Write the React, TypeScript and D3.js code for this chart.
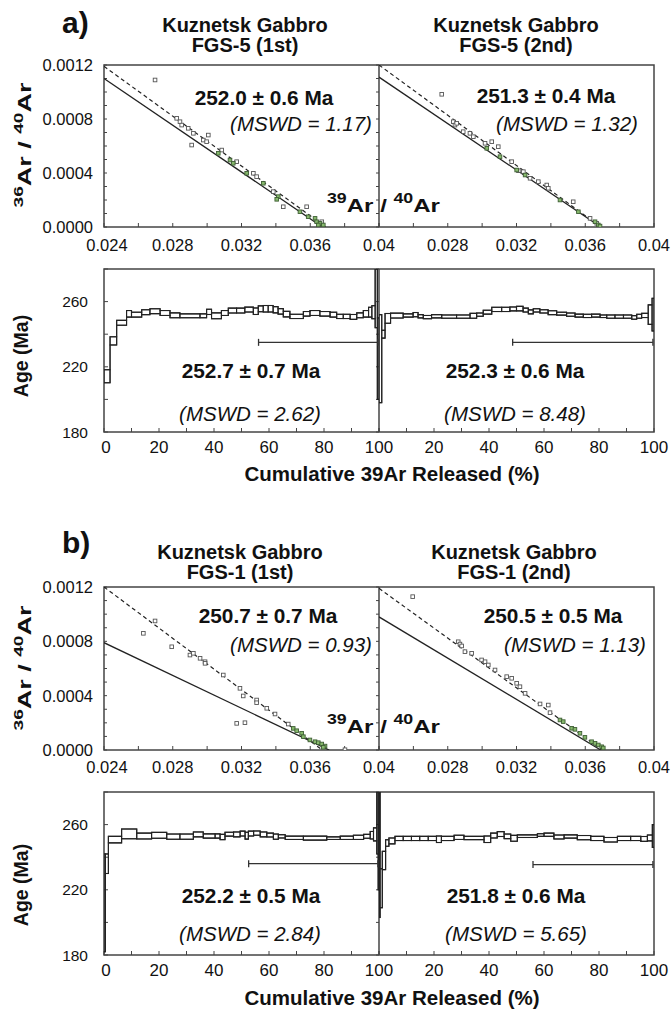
import { useEffect, useRef } from 'react';
import * as d3 from 'd3';

type Pt = [number, number];
type Step = [number, number, number, number]; // from %, to %, age, error

const FONT = "'Liberation Sans', Arial, Helvetica, sans-serif";

// axis ticks
const isoXTicks = [0.024, 0.028, 0.032, 0.036, 0.04];
const isoXTickLabels = ['0.024', '0.028', '0.032', '0.036', '0.04'];
const isoYTicks = [0, 0.0004, 0.0008, 0.0012];
const isoYTickLabels = ['0.0000', '0.0004', '0.0008', '0.0012'];
const ageXTicks = [0, 20, 40, 60, 80, 100];
const ageYTicks = [180, 220, 260];

// texts
const sectionLetters = ['a)', 'b)'];
const sampleNames = ['FGS-5 (1st)', 'FGS-5 (2nd)', 'FGS-1 (1st)', 'FGS-1 (2nd)'];
const isoAges = ['252.0 ± 0.6 Ma', '251.3 ± 0.4 Ma', '250.7 ± 0.7 Ma', '250.5 ± 0.5 Ma'];
const isoMswd = ['(MSWD = 1.17)', '(MSWD = 1.32)', '(MSWD = 0.93)', '(MSWD = 1.13)'];
const plateauAges = ['252.7 ± 0.7 Ma', '252.3 ± 0.6 Ma', '252.2 ± 0.5 Ma', '251.8 ± 0.6 Ma'];
const plateauMswd = ['(MSWD = 2.62)', '(MSWD = 8.48)', '(MSWD = 2.84)', '(MSWD = 5.65)'];

// isochron points (39Ar/40Ar, 36Ar/40Ar)
const fgs5aOpen: Pt[] = [
  [0.02697, 0.001089], [0.02823, 0.000805], [0.02842, 0.00078], [0.02852, 0.000755], [0.0289, 0.000731],
  [0.0292, 0.000694], [0.0291, 0.000607], [0.02978, 0.000644], [0.03007, 0.000681], [0.02997, 0.000632],
  [0.03085, 0.00057], [0.03172, 0.000484], [0.03269, 0.000398], [0.03288, 0.000373], [0.03385, 0.000262],
  [0.03443, 0.00015], [0.03579, 0.00015], [0.03667, 0.000039],
];
const fgs5aGreen: Pt[] = [
  [0.03065, 0.000546], [0.03133, 0.000496], [0.03152, 0.000472], [0.0323, 0.000398], [0.03327, 0.000324],
  [0.03414, 0.000225], [0.03405, 0.000205], [0.0354, 0.000113], [0.03588, 0.000076], [0.03628, 0.000064],
  [0.03637, 0.000039], [0.03657, 0.000027], [0.03647, 0.000015], [0.03676, 0.000015],
];
const fgs5bOpen: Pt[] = [
  [0.02765, 0.000983], [0.02832, 0.00078], [0.02842, 0.000755], [0.02852, 0.000768], [0.0289, 0.000706],
  [0.02929, 0.000694], [0.02949, 0.000669], [0.03017, 0.00062], [0.03056, 0.000632], [0.03094, 0.000595],
  [0.03172, 0.000484], [0.03211, 0.000417], [0.0324, 0.00041], [0.03279, 0.000361], [0.03327, 0.000336],
  [0.03376, 0.000311], [0.03385, 0.000287], [0.0353, 0.000187], [0.03628, 0.000064], [0.03667, 0.000027],
];
const fgs5bGreen: Pt[] = [
  [0.03027, 0.000583], [0.03104, 0.000521], [0.03201, 0.000422], [0.0325, 0.000385], [0.03453, 0.0002],
  [0.0356, 0.000113], [0.03657, 0.000039], [0.03676, 0.000015], [0.03686, 0.000007],
];
const fgs1aOpen: Pt[] = [
  [0.02629, 0.000859], [0.02697, 0.00095], [0.02794, 0.00076], [0.029, 0.000699], [0.0292, 0.000712],
  [0.02959, 0.000675], [0.02988, 0.00065], [0.02988, 0.000638], [0.03094, 0.000552], [0.03191, 0.000454],
  [0.0321, 0.000398], [0.03172, 0.000196], [0.0322, 0.000201], [0.03288, 0.000368], [0.03288, 0.000348],
  [0.03347, 0.000307], [0.03395, 0.000265], [0.03472, 0.000191], [0.03802, 0.000002],
];
const fgs1aGreen: Pt[] = [
  [0.03501, 0.000159], [0.03521, 0.000142], [0.0355, 0.000123], [0.0356, 0.000098], [0.03598, 0.000074],
  [0.03628, 0.000061], [0.03647, 0.000054], [0.03667, 0.000044], [0.03686, 0.000029], [0.03676, 0.00002],
];
const fgs1bOpen: Pt[] = [
  [0.02596, 0.001129], [0.02861, 0.000797], [0.02871, 0.00078], [0.02881, 0.000766], [0.029, 0.000724],
  [0.02939, 0.000712], [0.02997, 0.000663], [0.03017, 0.00065], [0.03036, 0.000626], [0.03075, 0.000589],
  [0.03143, 0.00054], [0.03172, 0.000528], [0.03201, 0.000491], [0.0322, 0.000466], [0.0325, 0.000417],
  [0.03337, 0.000339], [0.03385, 0.000331], [0.03395, 0.000275],
];
const fgs1bGreen: Pt[] = [
  [0.03453, 0.000221], [0.03472, 0.000209], [0.03521, 0.00016], [0.0354, 0.000152], [0.03569, 0.000123],
  [0.03598, 0.000093], [0.03637, 0.000061], [0.03657, 0.000049], [0.03676, 0.000037], [0.03696, 0.000024],
  [0.03705, 0.000015],
];

// regression lines (start at 0.024, end at x-intercept)
const fgs5aSolid: Pt[] = [[0.024, 0.0011], [0.0367, 0]];
const fgs5aDashed: Pt[] = [[0.024, 0.00119], [0.0369, 0]];
const fgs5bSolid: Pt[] = [[0.024, 0.00111], [0.0369, 0]];
const fgs5bDashed: Pt[] = [[0.024, 0.0012], [0.0369, 0]];
const fgs1aSolid: Pt[] = [[0.024, 0.00079], [0.0371, 0]];
const fgs1aDashed: Pt[] = [[0.024, 0.0012], [0.0367, 0]];
const fgs1bSolid: Pt[] = [[0.024, 0.00098], [0.0369, 0]];
const fgs1bDashed: Pt[] = [[0.024, 0.00119], [0.037, 0]];

// age spectra steps
const fgs5aSteps: Step[] = [
  [0, 2.2, 214.2, 4], [2.2, 4.6, 235.9, 2.5], [4.6, 8.2, 247, 1.5], [8.2, 10, 252.5, 2],
  [10, 13.7, 252, 1.5], [13.7, 16.7, 253.5, 1.5], [16.7, 20.4, 254.1, 1.5], [20.4, 24, 253, 1.5],
  [24, 27.6, 251.6, 1.5], [27.6, 34.9, 251.3, 1.2], [34.9, 37.3, 251.3, 1.2], [37.3, 39.1, 253.7, 1.6],
  [39.1, 42.7, 251.3, 1.8], [42.7, 45.2, 253, 1.5], [45.2, 48.2, 254.5, 1.5], [48.2, 51.2, 254.5, 1.5],
  [51.2, 54.3, 255.1, 1.5], [54.3, 56.1, 254.1, 2], [56.1, 57.9, 255.6, 1.8], [57.9, 59.7, 255.6, 2],
  [59.7, 61.5, 255.6, 2], [61.5, 63.3, 255, 1.9], [63.3, 65.2, 254, 1.7], [65.2, 67.6, 252.3, 1.7],
  [67.6, 72.5, 250.9, 1.3], [72.5, 74.9, 252.5, 1.4], [74.9, 78.5, 253, 1.5], [78.5, 82.2, 252.5, 1.4],
  [82.2, 84.6, 252, 1.5], [84.6, 87, 250.9, 1.3], [87, 89.5, 250.9, 1.3], [89.5, 91.9, 250.6, 1.5],
  [91.9, 94.3, 251.6, 1.5], [94.3, 96.2, 252.5, 2], [96.2, 97.4, 253.5, 3], [97.4, 98.6, 253.5, 4],
  [98.6, 99.4, 262, 18], [99.4, 100, 225, 25],
];
const fgs5bSteps: Step[] = [
  [0, 1, 225, 27], [1, 2.2, 240, 2.4], [2.2, 4.2, 249.7, 3], [4.2, 8.8, 251.4, 1.5],
  [8.8, 12.4, 251.5, 1], [12.4, 14.2, 252, 1.3], [14.2, 16.1, 251, 1], [16.1, 19.1, 250.5, 1],
  [19.1, 22.8, 251, 1], [22.8, 28.2, 250.8, 1], [28.2, 33.1, 250.8, 1], [33.1, 35.5, 251.3, 1.5],
  [35.5, 37.9, 252, 1], [37.9, 41, 253.5, 1.2], [41, 44.6, 255.2, 1.3], [44.6, 47.6, 255.2, 1.3],
  [47.6, 50, 255.5, 1.2], [50, 52.4, 255.7, 1.4], [52.4, 54.3, 254.8, 1.2], [54.3, 56.1, 253.7, 1.2],
  [56.1, 58.5, 254.6, 1], [58.5, 61.5, 254, 1], [61.5, 64.6, 253.2, 1.2], [64.6, 68.2, 252.6, 0.9],
  [68.2, 71.3, 252, 1], [71.3, 74.3, 251.4, 0.9], [74.3, 77.3, 251.2, 1], [77.3, 80.4, 251.4, 0.9],
  [80.4, 82.8, 251, 0.8], [82.8, 85.8, 250.8, 1], [85.8, 88.9, 250.8, 1], [88.9, 91.9, 250.8, 1],
  [91.9, 93.7, 250.3, 1.1], [93.7, 95.5, 251, 1.2], [95.5, 97.9, 251.5, 1.3], [97.9, 99.3, 252, 6],
  [99.3, 100, 252, 10],
];
const fgs1aSteps: Step[] = [
  [0, 0.5, 212, 30], [0.5, 1.6, 236, 6], [1.6, 6.4, 250.8, 2], [6.4, 11.9, 254.3, 3],
  [11.9, 17.3, 253, 1.8], [17.3, 22.8, 253.4, 1.8], [22.8, 27.6, 252.6, 1.6], [27.6, 32.5, 252.6, 1.6],
  [32.5, 36.1, 254, 1.5], [36.1, 40.4, 253, 1.3], [40.4, 42.2, 253, 1.3], [42.2, 44, 252.4, 1.6],
  [44, 47.1, 254.1, 1.2], [47.1, 49.5, 254, 1.5], [49.5, 51.3, 254.5, 1.5], [51.3, 52.5, 253.2, 2.1],
  [52.5, 54.4, 254.5, 1.5], [54.4, 56.8, 254.8, 1.3], [56.8, 59.2, 254, 1.5], [59.2, 61.6, 253.6, 1.2],
  [61.6, 63.4, 252.6, 1.6], [63.4, 65.9, 252.8, 1], [65.9, 72.5, 251.9, 1], [72.5, 81, 251.7, 1.2],
  [81, 85.9, 251.7, 0.8], [85.9, 90.7, 251.9, 1], [90.7, 94.4, 252.2, 1.3], [94.4, 96.8, 252.8, 1.2],
  [96.8, 98, 253.5, 2.3], [98, 99.2, 254, 4], [99.2, 99.7, 262, 20], [99.7, 100, 240, 20],
];
const fgs1bSteps: Step[] = [
  [0, 0.4, 242, 39], [0.4, 1.2, 221, 12], [1.2, 2.4, 238, 5.6], [2.4, 3.6, 248.7, 2],
  [3.6, 5.8, 250, 1.8], [5.8, 8.8, 251.5, 1.3], [8.8, 11.8, 251.5, 1.3], [11.8, 14.8, 251.5, 1.3],
  [14.8, 17.9, 251.5, 1.3], [17.9, 20.9, 251.5, 1.3], [20.9, 22.7, 251, 2], [22.7, 27.3, 251.5, 1.3],
  [27.3, 30.9, 252.2, 1.3], [30.9, 38.2, 251.8, 1], [38.2, 40.6, 251, 2], [40.6, 43, 253.3, 1.5],
  [43, 45.5, 254.2, 1.5], [45.5, 47.9, 252.8, 1.4], [47.9, 50.3, 251.6, 1.8], [50.3, 57.6, 252.9, 0.8],
  [57.6, 60, 253.6, 0.8], [60, 63.6, 253.8, 1], [63.6, 67.3, 252.4, 1.2], [67.3, 72.1, 252.7, 1],
  [72.1, 77, 252, 1.3], [77, 81.8, 251.5, 1.3], [81.8, 86.7, 250.7, 1.4], [86.7, 91.5, 251.5, 1.3],
  [91.5, 95.2, 251.5, 1.3], [95.2, 97.6, 251.2, 1.5], [97.6, 99.4, 251.8, 1.8], [99.4, 100, 253, 7],
];

// plateau bars: from %, to %, drawn at age
const fgs5aPlateau = [56.2, 99.6, 235];
const fgs5bPlateau = [48.6, 99.6, 235];
const fgs1aPlateau = [52.6, 99.6, 236];
const fgs1bPlateau = [56, 99.6, 235.5];

const samples = [
  { open: fgs5aOpen, green: fgs5aGreen, solid: fgs5aSolid, dashed: fgs5aDashed, steps: fgs5aSteps, plateau: fgs5aPlateau },
  { open: fgs5bOpen, green: fgs5bGreen, solid: fgs5bSolid, dashed: fgs5bDashed, steps: fgs5bSteps, plateau: fgs5bPlateau },
  { open: fgs1aOpen, green: fgs1aGreen, solid: fgs1aSolid, dashed: fgs1aDashed, steps: fgs1aSteps, plateau: fgs1aPlateau },
  { open: fgs1bOpen, green: fgs1bGreen, solid: fgs1bSolid, dashed: fgs1bDashed, steps: fgs1bSteps, plateau: fgs1bPlateau },
];

// layout
const COLS: [number, number][] = [[104, 379], [379, 654]];
const SECTIONS = [
  { iso: [227, 65], age: [432, 269], title: [32, 52], letter: 33, isoTick: 251, ageTick: 453, cum: 481,
    isoLabel: 145, ageLabel: 356, inner: 212, isoText: [105, 131], specText: [378, 421] },
  { iso: [750, 587], age: [955, 792], title: [559, 579], letter: 553, isoTick: 773, ageTick: 976, cum: 1005,
    isoLabel: 668, ageLabel: 885, inner: 733, isoText: [623, 652], specText: [903, 941] },
];
const TITLE_X = [245, 516, 240, 514];
const ISO_AGE_X = [264, 546, 268, 553];
const ISO_MSWD_X = [301, 567, 301, 575];
const SPEC_AGE_X = [251, 515, 251, 516];
const SPEC_MSWD_X = [250, 515, 250, 516];

const INK = '#222';
const FRAME = '#444';

function App() {
  const svgRef = useRef<SVGSVGElement>(null);

  useEffect(() => {
    const svg = d3.select(svgRef.current);
    svg.selectAll('*').remove();
    const defs = svg.append('defs');

    svg.append('rect').attr('width', 671).attr('height', 1015).attr('fill', '#fff');

    const txt = (g: any, x: number, y: number, s: string, size: number, opts: any = {}) =>
      g.append('text')
        .attr('x', x).attr('y', y)
        .attr('font-family', FONT)
        .attr('font-size', size)
        .attr('font-weight', opts.bold ? 'bold' : 'normal')
        .attr('font-style', opts.italic ? 'italic' : 'normal')
        .attr('text-anchor', opts.anchor || 'middle')
        .attr('fill', opts.fill || '#111')
        .text(s);

    // label with superscript isotopes
    const isoLabel = (g: any, a: string, b: string, supSize: number, mainSize: number, shift: number, length: number) => {
      const t = g.append('text')
        .attr('font-family', FONT).attr('font-weight', 'bold').attr('fill', '#111')
        .attr('textLength', length).attr('lengthAdjust', 'spacingAndGlyphs');
      t.append('tspan').attr('font-size', supSize).attr('dy', -shift).text(a);
      t.append('tspan').attr('font-size', mainSize).attr('dy', shift).text('Ar / ');
      t.append('tspan').attr('font-size', supSize).attr('dy', -shift).text(b);
      t.append('tspan').attr('font-size', mainSize).attr('dy', shift).text('Ar');
      return t;
    };

    SECTIONS.forEach((sec, si) => {
      const g = svg.append('g');

      // section letter
      txt(g, 62, sec.letter, sectionLetters[si], 30, { bold: true, anchor: 'start' });

      // axis titles
      const yl = g.append('g').attr('transform', `translate(31,${sec.isoLabel}) rotate(-90)`);
      isoLabel(yl, '36', '40', 13.5, 19, 8, 125).attr('x', -62.5).attr('y', 0);
      const al = g.append('g').attr('transform', `translate(28,${sec.ageLabel}) rotate(-90)`);
      txt(al, 0, 0, 'Age (Ma)', 19.5, { bold: true });
      txt(g, 392, sec.cum, 'Cumulative 39Ar Released (%)', 20.5, { bold: true });

      // frames
      const [isoB, isoT] = sec.iso;
      const [ageB, ageT] = sec.age;
      [[isoT, isoB], [ageT, ageB]].forEach(([t, b]) => {
        g.append('rect').attr('x', COLS[0][0]).attr('y', t)
          .attr('width', COLS[1][1] - COLS[0][0]).attr('height', b - t)
          .attr('fill', 'none').attr('stroke', FRAME).attr('stroke-width', 1.5);
        g.append('line').attr('x1', COLS[0][1]).attr('x2', COLS[0][1]).attr('y1', t).attr('y2', b)
          .attr('stroke', FRAME).attr('stroke-width', 1.5);
      });

      // y tick labels
      const yIso = d3.scaleLinear().domain([0, 0.0012]).range([isoB, isoT]);
      const yAge = d3.scaleLinear().domain([180, 280]).range([ageB, ageT]);
      isoYTicks.forEach((v, i) => txt(g, 93, yIso(v) + 6, isoYTickLabels[i], 16.5, { anchor: 'end' }));
      ageYTicks.forEach(v => txt(g, 88, yAge(v) + 5.5, String(v), 15.5, { anchor: 'end' }));

      // left axis ticks (inward) and divider ticks
      d3.range(0, 0.00121, 0.0001).forEach(v => {
        g.append('line').attr('x1', COLS[0][0]).attr('x2', COLS[0][0] + 3).attr('y1', yIso(v)).attr('y2', yIso(v))
          .attr('stroke', FRAME).attr('stroke-width', 1);
        g.append('line').attr('x1', COLS[1][0]).attr('x2', COLS[1][0] - 3).attr('y1', yIso(v)).attr('y2', yIso(v))
          .attr('stroke', FRAME).attr('stroke-width', 1);
      });
      d3.range(180, 281, 20).forEach(v => {
        g.append('line').attr('x1', COLS[0][0]).attr('x2', COLS[0][0] + 4).attr('y1', yAge(v)).attr('y2', yAge(v))
          .attr('stroke', FRAME).attr('stroke-width', 1);
        g.append('line').attr('x1', COLS[1][0]).attr('x2', COLS[1][0] - 3).attr('y1', yAge(v)).attr('y2', yAge(v))
          .attr('stroke', FRAME).attr('stroke-width', 1);
      });

      // inner 39Ar/40Ar label
      isoLabel(g, '39', '40', 14, 19, 9, 113).attr('x', 327).attr('y', sec.inner);

      COLS.forEach(([x0, x1], ci) => {
        const idx = si * 2 + ci;
        const s = samples[idx];
        const xIso = d3.scaleLinear().domain([0.024, 0.04]).range([x0, x1]);
        const xAge = d3.scaleLinear().domain([0, 100]).range([x0, x1]);

        // titles
        txt(g, TITLE_X[idx], sec.title[0], 'Kuznetsk Gabbro', 20, { bold: true });
        txt(g, TITLE_X[idx], sec.title[1], sampleNames[idx], 20, { bold: true });

        // x ticks + labels
        d3.range(0.024, 0.0401, 0.002).forEach(v => {
          g.append('line').attr('x1', xIso(v)).attr('x2', xIso(v)).attr('y1', isoB).attr('y2', isoB - 4)
            .attr('stroke', FRAME).attr('stroke-width', 1);
        });
        isoXTicks.forEach((v, i) => {
          if (ci === 1 && i === 0) return;
          txt(g, xIso(v) + (i === 0 ? 3 : 0), sec.isoTick, isoXTickLabels[i], 16.5);
        });
        d3.range(0, 101, 10).forEach(v => {
          g.append('line').attr('x1', xAge(v)).attr('x2', xAge(v)).attr('y1', ageB).attr('y2', ageB - 4)
            .attr('stroke', FRAME).attr('stroke-width', 1);
        });
        ageXTicks.forEach((v, i) => {
          if (ci === 1 && i === 0) return;
          txt(g, xAge(v) + (i === 0 ? 2 : 0), sec.ageTick, String(v), 17);
        });

        // clips
        const isoClip = `iso-clip-${idx}`;
        const ageClip = `age-clip-${idx}`;
        defs.append('clipPath').attr('id', isoClip).append('rect')
          .attr('x', x0).attr('y', isoT).attr('width', x1 - x0).attr('height', isoB - isoT);
        defs.append('clipPath').attr('id', ageClip).append('rect')
          .attr('x', x0).attr('y', ageT).attr('width', x1 - x0).attr('height', ageB - ageT);

        // isochron
        const ig = g.append('g').attr('clip-path', `url(#${isoClip})`);
        const line = d3.line<Pt>().x(d => xIso(d[0])).y(d => yIso(d[1]));
        ig.append('path').attr('d', line(s.dashed)).attr('fill', 'none')
          .attr('stroke', INK).attr('stroke-width', 1.2).attr('stroke-dasharray', '4,3');
        ig.append('path').attr('d', line(s.solid)).attr('fill', 'none')
          .attr('stroke', INK).attr('stroke-width', 1.3);
        const sq = 3.6;
        ig.append('g').selectAll('rect').data(s.open).enter().append('rect')
          .attr('x', d => xIso(d[0]) - sq / 2).attr('y', d => yIso(d[1]) - sq / 2)
          .attr('width', sq).attr('height', sq)
          .attr('fill', '#fff').attr('stroke', '#555').attr('stroke-width', 0.9);
        ig.append('g').selectAll('rect').data(s.green).enter().append('rect')
          .attr('x', d => xIso(d[0]) - sq / 2).attr('y', d => yIso(d[1]) - sq / 2)
          .attr('width', sq).attr('height', sq)
          .attr('fill', '#86b86c').attr('stroke', '#3f5f35').attr('stroke-width', 0.9);

        txt(g, ISO_AGE_X[idx], sec.isoText[0] + (ci === 1 && si === 0 ? -2 : 0), isoAges[idx], 20.8, { bold: true });
        txt(g, ISO_MSWD_X[idx], sec.isoText[1], isoMswd[idx], 20.5, { italic: true });

        // age spectrum
        const ag = g.append('g').attr('clip-path', `url(#${ageClip})`);
        const upper: Pt[] = [];
        const lower: Pt[] = [];
        s.steps.forEach(([a, b, age, err]) => {
          upper.push([a, age + err], [b, age + err]);
          lower.push([a, age - err], [b, age - err]);
        });
        const sline = d3.line<Pt>().x(d => xAge(d[0])).y(d => yAge(d[1]));
        ag.append('path').attr('d', sline(upper)).attr('fill', 'none').attr('stroke', INK).attr('stroke-width', 1.1);
        ag.append('path').attr('d', sline(lower)).attr('fill', 'none').attr('stroke', INK).attr('stroke-width', 1.1);
        ag.append('g').selectAll('rect').data(s.steps).enter().append('rect')
          .attr('x', d => xAge(d[0])).attr('width', d => xAge(d[1]) - xAge(d[0]))
          .attr('y', d => yAge(d[2] + d[3])).attr('height', d => yAge(d[2] - d[3]) - yAge(d[2] + d[3]))
          .attr('fill', 'none').attr('stroke', INK).attr('stroke-width', 1.1);

        // plateau bar
        const [pa, pb, page] = s.plateau;
        const py = yAge(page);
        g.append('line').attr('x1', xAge(pa)).attr('x2', xAge(pb)).attr('y1', py).attr('y2', py)
          .attr('stroke', '#333').attr('stroke-width', 1.3);
        [pa, pb].forEach(v => {
          g.append('line').attr('x1', xAge(v)).attr('x2', xAge(v)).attr('y1', py - 3.5).attr('y2', py + 3.5)
            .attr('stroke', '#333').attr('stroke-width', 1.3);
        });

        txt(g, SPEC_AGE_X[idx], sec.specText[0], plateauAges[idx], 20.8, { bold: true });
        txt(g, SPEC_MSWD_X[idx], sec.specText[1], plateauMswd[idx], 20.5, { italic: true });
      });
    });
  }, []);

  return (
    <svg
      ref={svgRef}
      width={671}
      height={1015}
      style={{ position: 'absolute', left: 0, top: 0, display: 'block' }}
    />
  );
}

export default App;
